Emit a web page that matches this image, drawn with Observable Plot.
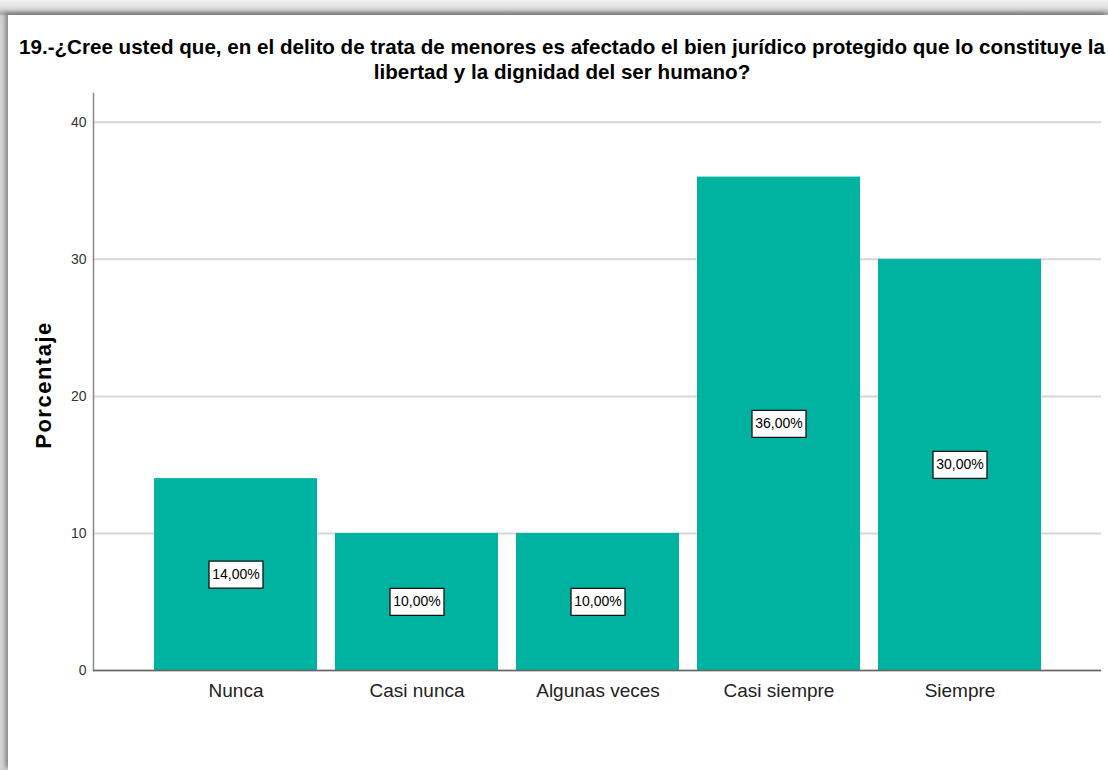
<!DOCTYPE html>
<html>
<head>
<meta charset="utf-8">
<script src="https://cdn.jsdelivr.net/npm/d3@7"></script>
<script src="https://cdn.jsdelivr.net/npm/@observablehq/plot@0.6"></script>
<style>
  html, body { margin: 0; padding: 0; }
  body { width: 1108px; height: 770px; overflow: hidden; position: relative;
         background: linear-gradient(#f2f2f2 0px, #dcdcdc 8px, #a8a8a8 14px, #d4d4d4 16px); font-family: "Liberation Sans", Arial, sans-serif; }
  #card { position: absolute; left: 8px; top: 15px; width: 1100px; height: 755px; background: #fff;
          box-shadow: -3px -2px 4px rgba(0,0,0,0.35); }
  #title { position: absolute; left: 12px; width: 1100px; top: 34px; text-align: center;
           font: bold 20.6px/25px "Liberation Sans", Arial, sans-serif; color: #000; white-space: nowrap; }
  #chart { position: absolute; left: 0; top: 85px; }
  .ylab text { letter-spacing: 1.5px; }
</style>
</head>
<body>
<div id="card"></div>
<div id="title">19.-¿Cree usted que, en el delito de trata de menores es afectado el bien jurídico protegido que lo constituye la<br>libertad y la dignidad del ser humano?</div>
<div id="chart"></div>
<script>
const categories = ["Nunca", "Casi nunca", "Algunas veces", "Casi siempre", "Siempre"];
const percentages = [14, 10, 10, 36, 30];
const yTicks = [0, 10, 20, 30, 40];
const yLabel = "Porcentaje";

const data = categories.map((c, i) => ({category: c, value: percentages[i]}));
const fmt = v => v.toFixed(2).replace(".", ",") + "%";

const boxSymbol = {
  draw(context) {
    context.moveTo(-27, -13.5);
    context.lineTo(27, -13.5);
    context.lineTo(27, 13.5);
    context.lineTo(-27, 13.5);
    context.closePath();
  }
};

const chart = Plot.plot({
  width: 1108,
  height: 685,
  marginLeft: 93,
  marginRight: 7,
  marginTop: 8,
  marginBottom: 100,
  style: { fontFamily: "'Liberation Sans', Arial, sans-serif", background: "transparent", overflow: "visible" },
  x: { domain: categories, paddingInner: 0.102, paddingOuter: 0.328, label: null },
  y: { domain: [0, 42.1], ticks: yTicks, label: null },
  marks: [
    Plot.gridY(yTicks, { stroke: "#d6d6d6", strokeOpacity: 1, strokeWidth: 2 }),
    Plot.barY(data, { x: "category", y: "value", fill: "#00b3a0" }),
    Plot.frame({ anchor: "left", stroke: "#8a8a8a", strokeWidth: 1.5 }),
    Plot.ruleY([0], { stroke: "#666", strokeWidth: 1.5 }),
    Plot.axisY({ ticks: yTicks, tickSize: 0, tickPadding: 7, fontSize: 14, fill: "#333", label: null }),
    Plot.axisX({ tickSize: 0, tickPadding: 13, fontSize: 19, fill: "#222", label: null }),
    Plot.dot(data, { x: "category", y: d => d.value / 2, symbol: boxSymbol, r: 10, fill: "#fff", stroke: "#111", strokeWidth: 1.3 }),
    Plot.text(data, { x: "category", y: d => d.value / 2, text: d => fmt(d.value), fontSize: 14, fill: "#000" }),
    Plot.text([yLabel], { frameAnchor: "left", dx: -50, dy: 3, textAnchor: "middle", rotate: -90, fontSize: 22, fontWeight: "bold", fill: "#000", className: "ylab" })
  ]
});
document.getElementById("chart").appendChild(chart);
</script>
</body>
</html>
